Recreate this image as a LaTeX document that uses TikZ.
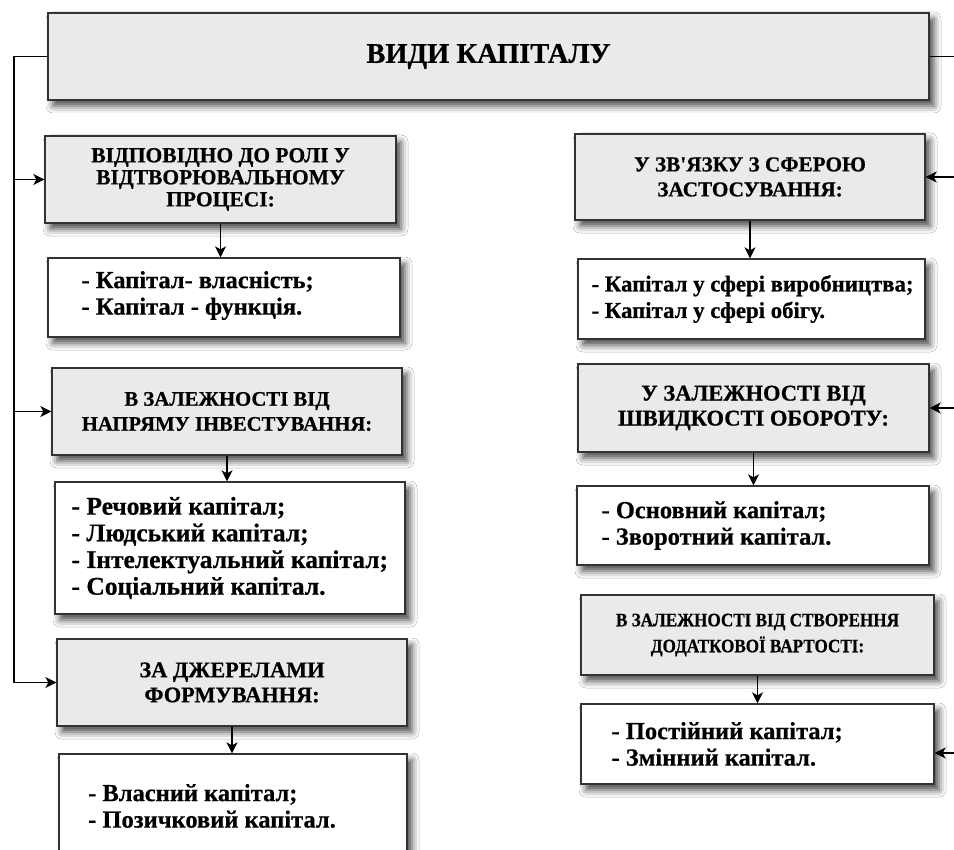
\documentclass[tikz,border=0pt]{standalone}
\usepackage{fontspec}
\setmainfont{Liberation Serif}[BoldFeatures={FakeBold=0.6}]
\newfontfamily\narrowserif{Liberation Serif}[FakeStretch=0.9, BoldFeatures={FakeBold=0.6}]
\usetikzlibrary{arrows.meta,shadows.blur,calc}

\definecolor{hdrfill}{HTML}{EAEAEA}
\definecolor{edge}{HTML}{333333}

\tikzset{
  boxshadow/.style={blur shadow={shadow xshift=5pt, shadow yshift=-6pt,
      shadow blur radius=7pt, shadow opacity=72}},
  hdr/.style={draw=edge, line width=1.3pt, fill=hdrfill, boxshadow,
      align=center, inner sep=0pt, font=\bfseries\fontsize{21.5}{25}\selectfont},
  lst/.style={draw=edge, line width=1.3pt, fill=white, boxshadow, inner sep=0pt},
  lsttxt/.style={anchor=west, align=left, inner sep=0pt,
      font=\bfseries\fontsize{24.5}{26.5}\selectfont},
  conn/.style={line width=1.4pt, black},
  arr/.style={conn, -{Stealth[length=11pt, width=11pt, inset=3pt]}},
}

\begin{document}
\begin{tikzpicture}[x=1pt, y=-1pt]
  \useasboundingbox[fill=white] (0,0) rectangle (954,850);

  % main heading
  \node[hdr, minimum width=881pt, minimum height=87pt,
        font=\bfseries\fontsize{28.5}{32}\selectfont] (top) at (488.5,56.5) {ВИДИ КАПІТАЛУ};

  % left column
  \node[hdr, minimum width=351pt, minimum height=87pt,
        font=\bfseries\fontsize{21.5}{22}\selectfont] (h1) at (220.5,179.5)
    {ВІДПОВІДНО ДО РОЛІ У\\ВІДТВОРЮВАЛЬНОМУ\\ПРОЦЕСІ:};
  \node[lst, minimum width=352pt, minimum height=79pt] (l1) at (224,297.5) {};
  \node[lsttxt] (t1) at ([xshift=34pt, yshift=2pt]l1.west)
    {- Капітал- власність;\\- Капітал - функція.};

  \node[hdr, minimum width=350pt, minimum height=87pt,
        font=\bfseries\fontsize{20.7}{25}\selectfont] (h2) at (227,411.5)
    {В ЗАЛЕЖНОСТІ ВІД\\НАПРЯМУ ІНВЕСТУВАННЯ:};
  \node[lst, minimum width=350pt, minimum height=132pt] (l2) at (230,548) {};
  \node[lsttxt, font=\bfseries\fontsize{25.5}{26.7}\selectfont] (t2) at ([xshift=17pt]l2.west)
    {- Речовий капітал;\\- Людський капітал;\\- Інтелектуальний капітал;\\- Соціальний капітал.};

  \node[hdr, minimum width=350pt, minimum height=87pt,
        font=\bfseries\fontsize{22.3}{25}\selectfont] (h3) at (232,682.5)
    {ЗА ДЖЕРЕЛАМИ\\ФОРМУВАННЯ:};
  \node[lst, minimum width=348pt, minimum height=112pt] (l3) at (233,810) {};
  \node[lsttxt] (t3) at (88,806)
    {- Власний капітал;\\- Позичковий капітал.};

  % right column
  \node[hdr, minimum width=350pt, minimum height=86pt,
        font=\bfseries\fontsize{21.2}{25}\selectfont] (h4) at (750,177)
    {У ЗВ\textquotesingle ЯЗКУ З СФЕРОЮ\\ЗАСТОСУВАННЯ:};
  \node[lst, minimum width=347pt, minimum height=80pt] (l4) at (751.5,299) {};
  \node[lsttxt, font=\bfseries\fontsize{22.8}{26.5}\selectfont] (t4) at ([xshift=14pt]l4.west)
    {- Капітал у сфері виробництва;\\- Капітал у сфері обігу.};

  \node[hdr, minimum width=351pt, minimum height=88pt,
        font=\bfseries\fontsize{22.5}{25}\selectfont] (h5) at (753.5,408)
    {У ЗАЛЕЖНОСТІ ВІД\\ШВИДКОСТІ ОБОРОТУ:};
  \node[lst, minimum width=352pt, minimum height=79pt] (l5) at (753,525.5) {};
  \node[lsttxt] (t5) at ([xshift=25pt]l5.west)
    {- Основний капітал;\\- Зворотний капітал.};

  \node[hdr, minimum width=353pt, minimum height=80pt,
        font=\narrowserif\bfseries\fontsize{19}{26}\selectfont] (h6) at (757.5,635)
    {В ЗАЛЕЖНОСТІ ВІД СТВОРЕННЯ\\ДОДАТКОВОЇ ВАРТОСТІ:};
  \node[lst, minimum width=353pt, minimum height=80pt] (l6) at (757.5,744) {};
  \node[lsttxt] (t6) at ([xshift=31pt]l6.west)
    {- Постійний капітал;\\- Змінний капітал.};

  % trunk lines at the sides
  \coordinate (lb) at (14,0);
  \coordinate (rb) at (954,0);

  \draw[arr] (top.west) -- (top.west -| lb) |- (h3.west);
  \draw[arr] (h1.west -| lb) -- (h1.west);
  \draw[arr] (h2.west -| lb) -- (h2.west);

  \draw[conn] (top.east) -- (top.east -| rb);
  \draw[arr] (h4.east -| rb) -- (h4.east);
  \draw[arr] (h5.east -| rb) -- (h5.east);
  \draw[arr] ([yshift=-9pt]l6.east -| rb) -- ([yshift=-9pt]l6.east);

  % from each heading down to its list
  \draw[arr] (h1.south) -- (h1.south |- l1.north);
  \draw[arr] (h2.south) -- (h2.south |- l2.north);
  \draw[arr] (h3.south) -- (h3.south |- l3.north);
  \draw[arr] (h4.south) -- (h4.south |- l4.north);
  \draw[arr] (h5.south) -- (h5.south |- l5.north);
  \draw[arr] (h6.south) -- (h6.south |- l6.north);
\end{tikzpicture}
\end{document}
